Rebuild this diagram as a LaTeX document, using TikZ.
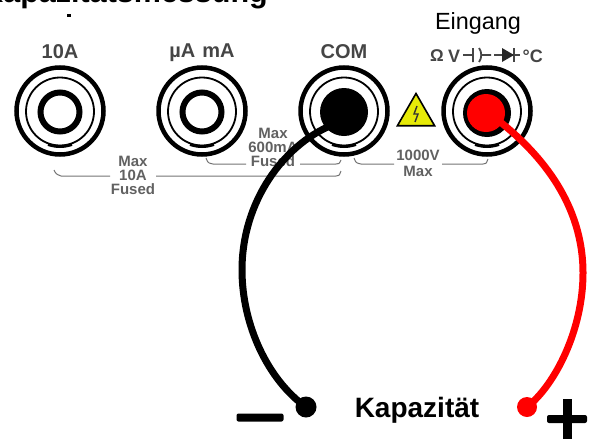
\documentclass[tikz,border=0pt]{standalone}
\usepackage{fontspec}
\setmainfont{Liberation Sans}
\usetikzlibrary{shapes.geometric}
\definecolor{lbl}{gray}{0.27}
\definecolor{brk}{gray}{0.45}
\tikzset{
 x=1pt,y=-1pt,
 lab/.style={font=\bfseries\fontsize{20}{21}\selectfont,text=lbl,inner sep=0},
 small/.style={font=\bfseries\fontsize{15}{14}\selectfont,text=lbl!85!white,inner sep=0,align=center},
 bracket/.style={draw=brk,line width=1pt},
 ringa/.style={circle,draw=black,fill=white,inner sep=0,line width=4.5pt,minimum size=87pt},
 ringb/.style={circle,draw=black,inner sep=0,line width=1.8pt,minimum size=68pt},
 ringc/.style={circle,draw=black,fill=white,inner sep=0,line width=6pt,minimum size=39pt},
 hole/.style={circle,fill=black,inner sep=0,minimum size=48pt},
}
\newcommand{\jack}[2]{%
 \node[ringa] (#2) at (#1,111) {};
 \node[ringb] (#2m) at (#1,111.5) {};
 \draw[line width=3pt] (#1,111.5) ++(110:35) arc[start angle=110,end angle=70,radius=35];
}
\begin{document}
\begin{tikzpicture}
\useasboundingbox (0,0) rectangle (593,439);
\jack{60}{ja}
\node[ringc] (ja0) at (60,112) {};
\jack{202}{jb}
\node[ringc] (jb0) at (202,112) {};
\jack{344}{jc}
\node[hole] (jc0) at (344,112) {};
\jack{487}{jd}
\node[hole] (jd0) at (487,113) {};
% labels
\node[lab] (t1) at (60,52) {10A};
\node[lab] (t2) at (202,52.5) {µA\hspace{7pt}mA};
\node[lab] (t3) at (344,52) {COM};
% input symbols
\node[font=\bfseries\fontsize{17}{18}\selectfont,text=lbl,inner sep=0,anchor=west] (om) at (430,56) {Ω};
\node[font=\bfseries\fontsize{18}{18}\selectfont,text=lbl,inner sep=0,anchor=west] (vv) at (448,56) {V};
\node[font=\bfseries\fontsize{18}{18}\selectfont,text=lbl,inner sep=0,anchor=east] (cc) at (543,56) {°C};
\coordinate (capl) at (463,55); \coordinate (capr) at (491,55);
\draw[lbl,line width=1.8pt] (capl) -- (473,55) (473,48) -- (473,62) (479,48) .. controls (482,52) and (482,58) .. (479,62) (481,55) -- (capr);
\coordinate (dl) at (494,55); \coordinate (dr) at (520,55);
\draw[lbl,line width=1.8pt] (dl) -- (dr) (514,48) -- (514,62);
\fill[black!85] (502,48) -- (514,55) -- (502,62) -- cycle;
\node[inner sep=0,font=\fontsize{23.4}{24}\selectfont,anchor=base] (ein) at (478,29) {Eingang};
\node[inner sep=0,anchor=base east,font=\bfseries\fontsize{30.5}{32}\selectfont] (title) at (268,2) {Kapazitätsmessung};
\fill[black] (66.5,13.5) rectangle (70.5,17);
% brackets
\coordinate (b1a) at (54,170); \coordinate (b1b) at (341,171);
\draw[bracket] (b1a) .. controls (56,174) .. (61,176) -- (110,176);
\draw[bracket] (156,176) -- (336,176) .. controls (339,176) .. (b1b);
\coordinate (b2a) at (206,158); \coordinate (b2b) at (341,160);
\draw[bracket] (b2a) .. controls (208,163) .. (213,164) -- (246,164);
\draw[bracket] (300,164) -- (336,164) .. controls (339,164) .. (b2b);
\coordinate (b3a) at (354,158); \coordinate (b3b) at (488,159);
\draw[bracket] (b3a) .. controls (356,163) .. (361,164) -- (394,164);
\draw[bracket] (442,164) -- (483,164) .. controls (486,164) .. (b3b);
\node[small] (m1) at (133,175) {Max\\10A\\Fused};
\node[small] (m2) at (273,147.5) {Max\\600mA\\Fused};
\node[small,font=\bfseries\fontsize{15}{16.5}\selectfont] (m3) at (418,163.5) {1000V\\Max};
% warning triangle
\node[regular polygon,regular polygon sides=3,draw=black,fill=yellow!90!green,line width=1.6pt,minimum size=43pt,inner sep=0] (warn) at (416,115) {};
\draw[black!80,line width=1.4pt] (417,106) -- (414,114) -- (418,114) -- (415,122);
% leads
\coordinate (bl) at (306,407);
\coordinate (rd) at (527,407);
\draw[line width=7pt,line cap=round,black] (jc0.center) ++(-14,14) .. controls (285,145) and (242,200) .. (242,270) .. controls (242,325) and (268,380) .. (bl);
\draw[line width=7pt,line cap=round,red] (jd0.center) ++(12,8) .. controls (542,155) and (583,205) .. (583,273) .. controls (583,330) and (555,385) .. (rd);
\node[circle,fill=red,minimum size=38pt,inner sep=0] (rh) at (486,113) {};
\node[circle,fill=black,minimum size=21pt,inner sep=0] (bd) at (bl) {};
\node[circle,fill=red,minimum size=20pt,inner sep=0] (rdn) at (rd) {};
\node[inner sep=0,anchor=base,font=\bfseries\fontsize{28}{30}\selectfont] (kap) at (417,417) {Kapazität};
\node[fill=black,rounded corners=2pt,minimum width=47pt,minimum height=8pt,inner sep=0] (minus) at (260,417.5) {};
\node[fill=black,rounded corners=2pt,minimum width=40pt,minimum height=8pt,inner sep=0] (ph) at (567,419) {};
\node[fill=black,minimum width=9pt,minimum height=40pt,inner sep=0] (pv) at (567,419) {};
\end{tikzpicture}
\end{document}
